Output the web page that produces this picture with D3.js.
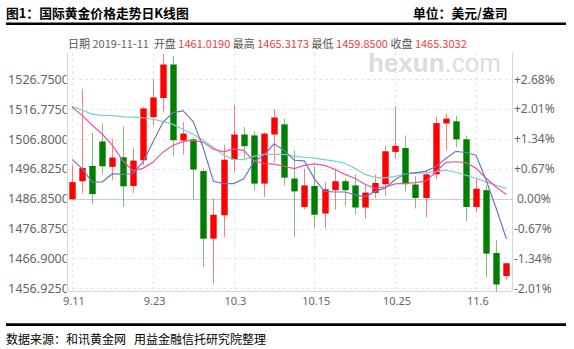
<!DOCTYPE html>
<html>
<head>
<meta charset="utf-8">
<script src="https://cdn.jsdelivr.net/npm/d3@7"></script>
<style>
  body { margin: 0; background: #fff; }
  svg { display: block; }
</style>
</head>
<body>
<svg id="chart"></svg>
<script>
// trading days, 2019-09-11 .. 2019-11-11
const dates = ['9.11','9.12','9.13','9.16','9.17','9.18','9.19','9.20','9.23','9.24','9.25','9.26','9.27','9.30',
  '10.1','10.2','10.3','10.4','10.7','10.8','10.9','10.10','10.11','10.14','10.15','10.16','10.17','10.18',
  '10.21','10.22','10.23','10.24','10.25','10.28','10.29','10.30','10.31','11.1','11.4','11.5','11.6','11.7','11.8','11.11'];

const openPrices = [1486.7,1492.7,1497.8,1506.0,1497.5,1500.7,1491.1,1499.7,1514.1,1520.5,1531.7,1506.3,1506.7,1496.1,
  1473.5,1481.3,1499.9,1508.3,1508.0,1491.9,1508.3,1511.7,1493.6,1484.1,1491.1,1481.9,1489.7,1492.7,
  1491.3,1483.9,1488.8,1491.7,1502.5,1503.8,1491.6,1487.1,1495.0,1512.0,1512.7,1506.7,1484.1,1489.7,1468.7,1461.019];
const highPrices = [1498.3,1523.6,1508.8,1512.0,1506.9,1511.0,1503.9,1517.5,1526.8,1535.3,1534.5,1512.5,1507.4,1497.0,
  1486.9,1504.7,1518.3,1510.8,1509.4,1509.0,1516.7,1513.6,1503.0,1496.9,1497.7,1492.3,1496.9,1493.6,
  1495.0,1491.6,1495.0,1504.5,1517.7,1508.0,1494.4,1496.4,1514.2,1515.3,1514.5,1508.0,1493.9,1491.3,1473.0,1465.3173];
const lowPrices = [1486.5,1488.6,1485.2,1495.2,1493.0,1484.1,1488.8,1498.0,1511.2,1515.6,1501.1,1501.6,1486.7,1464.0,
  1458.5,1474.1,1495.8,1500.3,1489.7,1487.4,1499.1,1491.3,1474.1,1483.3,1477.2,1476.9,1483.2,1484.4,
  1481.5,1480.2,1487.1,1487.8,1500.3,1489.3,1483.6,1480.7,1493.3,1503.0,1504.1,1479.3,1482.4,1460.7,1455.7,1459.85];
const closePrices = [1492.4,1497.1,1488.4,1497.7,1500.6,1491.0,1499.6,1517.0,1520.7,1531.7,1506.4,1508.6,1496.6,1473.5,
  1481.5,1499.9,1508.3,1504.4,1491.9,1508.6,1514.0,1493.9,1489.3,1491.3,1481.5,1490.0,1492.7,1489.7,
  1483.9,1488.9,1492.1,1502.7,1504.5,1491.7,1487.1,1495.0,1512.1,1513.6,1506.7,1484.1,1490.2,1468.5,1458.2,1465.3032];

// moving averages
const ma5 = [1500.0,1496.9,1492.4,1492.5,1495.2,1495.0,1495.2,1499.0,1505.7,1512.4,1515.6,1516.2,1512.6,1503.7,
  1492.7,1491.9,1491.9,1493.5,1499.2,1501.4,1505.2,1503.0,1499.7,1499.5,1493.5,1489.3,1489.1,1489.1,
  1488.2,1487.5,1489.3,1490.4,1493.3,1495.2,1495.6,1496.0,1497.5,1500.3,1502.7,1502.3,1501.4,1493.0,1483.6,1473.5];
const ma10 = [1517.5,1514.7,1511.4,1508.4,1504.7,1499.7,1496.2,1497.0,1499.0,1502.4,1504.7,1505.9,1506.4,1505.7,
  1503.4,1502.5,1503.5,1503.0,1499.4,1498.7,1498.4,1497.7,1496.9,1498.0,1498.5,1498.0,1496.7,1495.0,
  1493.7,1491.7,1490.3,1490.8,1491.8,1492.0,1492.2,1492.7,1495.7,1499.0,1499.2,1498.9,1497.0,1493.7,1490.7,1488.3];
const ma20 = [1517.7,1516.4,1515.1,1514.7,1514.6,1514.2,1514.1,1513.9,1513.4,1512.7,1511.7,1510.0,1508.4,1506.4,
  1504.0,1501.4,1500.0,1499.9,1501.0,1501.7,1501.7,1501.7,1501.0,1500.7,1500.4,1499.9,1499.4,1498.7,
  1497.0,1495.0,1494.0,1493.8,1494.3,1495.2,1495.3,1495.5,1495.9,1496.4,1495.7,1494.7,1493.7,1492.5,1491.3,1490.3];

const priceTicks = [1526.75, 1516.775, 1506.8, 1496.825, 1486.85, 1476.875, 1466.9, 1456.925];
const pctLabels = ['+2.68%', '+2.01%', '+1.34%', '+0.67%', '0.00%', '-0.67%', '-1.34%', '-2.01%'];
const xTickLabels = ['9.11', '9.23', '10.3', '10.15', '10.25', '11.6'];
const basePrice = 1486.85;

const infoNames = ['开盘', '最高', '最低', '收盘'];
const infoValues = ['1461.0190', '1465.3173', '1459.8500', '1465.3032'];

class KLineChart {

  constructor(_config) {
    this.config = {
      parentElement: _config.parentElement,
      containerWidth: 574,
      containerHeight: 349,
      plot: {left: 67, right: 513, top: 53, bottom: 291.5},
      upColor: '#ff0000',
      downColor: '#008000'
    };
    this.initVis();
  }

  initVis() {
    let vis = this;
    const p = vis.config.plot;

    vis.svg = d3.select(vis.config.parentElement)
        .attr('width', vis.config.containerWidth)
        .attr('height', vis.config.containerHeight)
        .style('font-family', '"Noto Sans", "Noto Sans CJK SC", sans-serif');

    vis.svg.append('rect')
        .attr('width', vis.config.containerWidth)
        .attr('height', vis.config.containerHeight)
        .attr('fill', '#fff');

    vis.xScale = d3.scalePoint()
        .domain(dates)
        .range([p.left, 511.4])
        .padding(0.5);

    vis.yScale = d3.scaleLinear()
        .domain([1456.925, 1526.75])
        .range([288.3, 79.3]);

    vis.svg.append('clipPath').attr('id', 'plot-clip')
      .append('rect')
        .attr('x', p.left).attr('y', p.top)
        .attr('width', p.right - p.left).attr('height', p.bottom - p.top);

    vis.svg.append('clipPath').attr('id', 'label-clip')
      .append('rect')
        .attr('x', 0).attr('y', 0)
        .attr('width', p.left - 0.5).attr('height', vis.config.containerHeight);

    this.renderVis();
  }

  renderVis() {
    let vis = this;
    const p = vis.config.plot;
    const x = vis.xScale, y = vis.yScale;

    // header and footer
    vis.svg.append('text')
        .attr('x', 6).attr('y', 18)
        .attr('font-family', '"Noto Sans CJK SC", sans-serif')
        .attr('font-size', 12.8).attr('font-weight', 700)
        .text('图1：国际黄金价格走势日K线图');
    vis.svg.append('text')
        .attr('x', 413).attr('y', 18)
        .attr('font-family', '"Noto Sans CJK SC", sans-serif')
        .attr('font-size', 12.8).attr('font-weight', 700)
        .text('单位：美元/盎司');
    vis.svg.append('line')
        .attr('x1', 6).attr('x2', 566).attr('y1', 23.8).attr('y2', 23.8)
        .attr('stroke', '#000').attr('stroke-width', 2.6);
    vis.svg.append('line')
        .attr('x1', 6).attr('x2', 566).attr('y1', 324.6).attr('y2', 324.6)
        .attr('stroke', '#000').attr('stroke-width', 2.6);
    vis.svg.append('text')
        .attr('x', 6).attr('y', 344)
        .attr('font-family', '"Noto Sans CJK SC", sans-serif')
        .attr('font-size', 12)
        .text('数据来源：和讯黄金网\u00a0\u00a0\u00a0用益金融信托研究院整理');

    // info line for the last bar
    const info = vis.svg.append('text')
        .attr('x', 68).attr('y', 47.5)
        .attr('font-family', '"Noto Sans CJK SC", sans-serif')
        .attr('font-size', 11);
    info.append('tspan').attr('fill', '#555').text('日期 ');
    info.append('tspan').attr('fill', '#666').text('2019-11-11\u00a0\u00a0');
    infoNames.forEach((n, i) => {
      info.append('tspan').attr('fill', '#555').text(n + ' ');
      info.append('tspan').attr('fill', '#f43b3b').text(infoValues[i] + (i < 3 ? ' ' : ''));
    });

    // watermark
    const wm = vis.svg.append('text')
        .attr('x', 368).attr('y', 72)
        .attr('font-family', '"Liberation Sans", Arial, sans-serif')
        .attr('font-size', 26)
        .attr('fill', '#dcdcdc');
    wm.append('tspan').attr('font-weight', 700).text('hexun');
    wm.append('tspan').text('.com');

    // grid
    vis.svg.append('g')
      .selectAll('line')
      .data(priceTicks.filter(d => d !== basePrice))
      .join('line')
        .attr('x1', p.left).attr('x2', p.right)
        .attr('y1', d => Math.round(y(d)) + 0.5).attr('y2', d => Math.round(y(d)) + 0.5)
        .attr('stroke', '#e6e6e6').attr('stroke-dasharray', '3,3');

    vis.svg.append('g')
      .selectAll('line')
      .data(xTickLabels)
      .join('line')
        .attr('x1', d => Math.round(x(d)) + 0.5).attr('x2', d => Math.round(x(d)) + 0.5)
        .attr('y1', p.top).attr('y2', p.bottom)
        .attr('stroke', '#e6e6e6').attr('stroke-dasharray', '3,3');

    // frame
    vis.svg.append('path')
        .attr('d', `M${p.left + 0.5},${p.top}V${p.bottom}H${p.right - 0.5}V${p.top}`)
        .attr('fill', 'none').attr('stroke', '#d8d8d8');

    // 0% base line
    vis.svg.append('line')
        .attr('x1', p.left).attr('x2', p.right)
        .attr('y1', Math.round(y(basePrice)) + 0.5).attr('y2', Math.round(y(basePrice)) + 0.5)
        .attr('stroke', '#c6cbe0');

    // left price labels, cut at the axis like the original
    vis.svg.append('g')
        .attr('clip-path', 'url(#label-clip)')
      .selectAll('text')
      .data(priceTicks)
      .join('text')
        .attr('x', 8)
        .attr('y', d => y(d))
        .attr('dy', '0.36em')
        .attr('font-size', 12.6)
        .attr('fill', '#666')
        .text(d => d.toFixed(4));

    // right percent labels
    vis.svg.append('g')
      .selectAll('text')
      .data(priceTicks)
      .join('text')
        .attr('x', (d, i) => pctLabels[i][0] === '0' ? 517 : 514)
        .attr('y', d => y(d))
        .attr('dy', '0.36em')
        .attr('font-size', 12)
        .attr('fill', '#666')
        .text((d, i) => pctLabels[i]);

    // x labels
    vis.svg.append('g')
      .selectAll('text')
      .data(xTickLabels)
      .join('text')
        .attr('x', d => x(d) + 1.8)
        .attr('y', 305)
        .attr('text-anchor', 'middle')
        .attr('font-size', 11)
        .attr('fill', '#666')
        .text(d => d);

    // candles
    const bars = dates.map((d, i) => ({
      date: d, open: openPrices[i], high: highPrices[i], low: lowPrices[i], close: closePrices[i]
    }));
    const candleG = vis.svg.append('g').attr('clip-path', 'url(#plot-clip)');
    const colorOf = d => d.close >= d.open ? vis.config.upColor : vis.config.downColor;

    candleG.selectAll('.wick')
      .data(bars)
      .join('line')
        .attr('class', 'wick')
        .attr('x1', d => Math.round(x(d.date)) + 0.5).attr('x2', d => Math.round(x(d.date)) + 0.5)
        .attr('y1', d => y(d.high)).attr('y2', d => y(d.low))
        .attr('stroke', colorOf).attr('stroke-opacity', 0.5);

    const bw = 6.4;
    candleG.selectAll('.body')
      .data(bars)
      .join('rect')
        .attr('class', 'body')
        .attr('x', d => Math.round(x(d.date)) + 0.5 - bw / 2)
        .attr('width', bw)
        .attr('y', d => y(Math.max(d.open, d.close)))
        .attr('height', d => Math.max(1, Math.abs(y(d.open) - y(d.close))))
        .attr('fill', colorOf);

    // moving averages
    const lineGen = vals => d3.line()
        .x((d, i) => x(dates[i]))
        .y(d => y(d))(vals);

    const maSeries = [
      {values: ma20, color: '#7ccdd0'},
      {values: ma10, color: '#e9559f'},
      {values: ma5, color: '#7176c0'}
    ];
    candleG.selectAll('.ma-line')
      .data(maSeries)
      .join('path')
        .attr('class', 'ma-line')
        .attr('d', d => lineGen(d.values))
        .attr('fill', 'none')
        .attr('stroke', d => d.color)
        .attr('stroke-width', 1.2);
  }
}

new KLineChart({parentElement: '#chart'});
</script>
</body>
</html>
